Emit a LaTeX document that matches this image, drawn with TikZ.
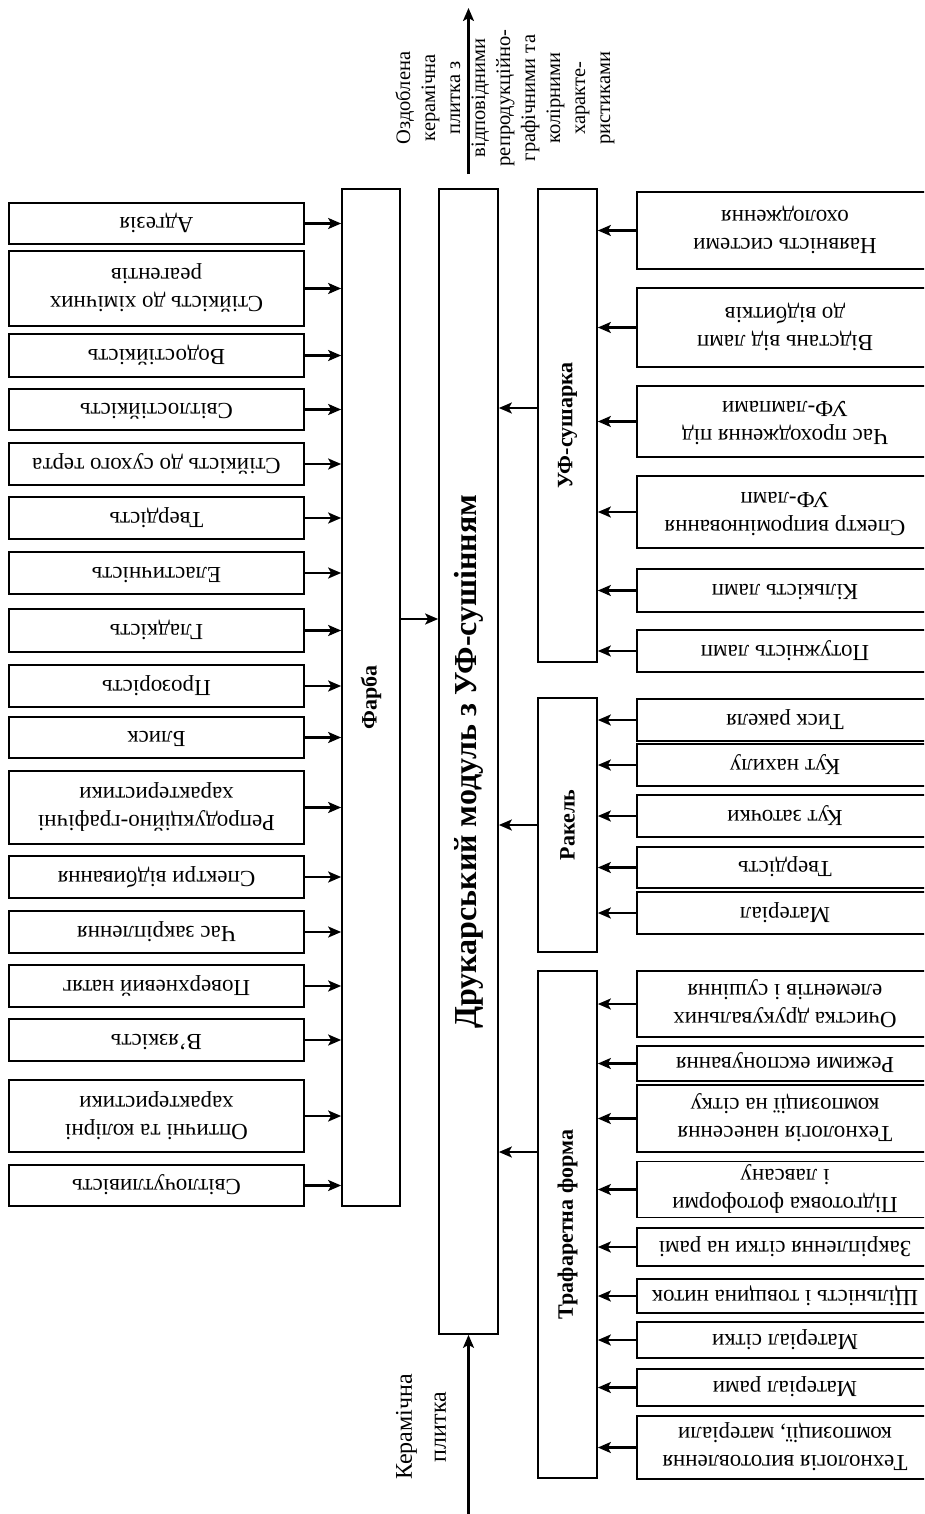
\documentclass[tikz,border=0pt]{standalone}
\usepackage{fontspec}
\setmainfont{Liberation Serif}
\usetikzlibrary{arrows.meta}
\newcommand{\fliptext}[1]{\rotatebox[origin=c]{180}{\begin{tabular}{@{}c@{}}#1\end{tabular}}}
\newcommand{\uptext}[1]{\rotatebox[origin=c]{90}{#1}}
\tikzset{
    prop_node/.style = {draw=black, line width=1.7pt, inner sep=0pt, minimum width=295pt, font=\fontsize{23}{28}\selectfont},
    item_node/.style = {prop_node, minimum width=296pt},
    group_node/.style = {draw=black, line width=1.7pt, inner sep=0pt, minimum width=59pt, font=\fontsize{22}{26}\selectfont\bfseries},
    main_node/.style = {group_node, font=\fontsize{32}{38}\selectfont\bfseries},
    flow/.style = {->, line width=2.2pt}
}
\begin{document}
\begin{tikzpicture}[x=1pt, y=-1pt, >={Stealth[length=13pt,width=11pt,inset=3pt]}]
\clip (0,0) rectangle (924,1514);
% central blocks
\node[main_node, minimum height=1145pt] (main) at (468.5,761.5) {\uptext{Друкарський модуль з УФ-сушінням}};
\node[group_node, minimum width=58pt, minimum height=1017pt] (farba) at (371,697.5) {\uptext{Фарба}};
\node[group_node, minimum height=473pt] (uf) at (567.5,425.5) {\uptext{УФ-сушарка}};
\node[group_node, minimum height=254pt] (rakel) at (567.5,825) {\uptext{Ракель}};
\node[group_node, minimum height=507pt] (traf) at (567.5,1224.5) {\uptext{Трафаретна форма}};
% ink properties
\foreach \y/\h/\t [count=\i] in {223.5/41/Адгезія, 288.5/75/{Стійкість до хімічних\\реагентів},
    355.5/43/Водостійкість, 409.5/41/Світлостійкість, 464/42/Стійкість до сухого терта,
    518/42/Твердість, 573/42/Еластичність, 630.5/43/Гладкість, 686/42/Прозорість,
    737.5/41/Блиск, 807.5/73/{Репродукційно-графічні\\характеристики}, 877/42/Спектри відбивання,
    932/42/Час закріплення, 986/42/Поверхневий натяг, 1040/42/В’язкість,
    1116/72/{Оптичні та колірні\\характеристики}, 1185.5/41/Світлочутливість}{
    \node[prop_node, minimum height=\h pt] (p\i) at (156.5,\y) {\fliptext{\t}};
    \draw[flow] (p\i.east) -- (p\i.east -| farba.west);
}
% UV dryer
\foreach \y/\h/\t [count=\i] in {230.5/77/{Наявність системи\\охолодження}, 327.5/79/{Відстань від ламп\\до відбитків},
    421.5/71/{Час проходження під\\УФ-лампами}, 512/72/{Спектр випромінювання\\УФ-ламп},
    590.5/43/Кількість ламп, 651/42/Потужність ламп}{
    \node[item_node, minimum height=\h pt] (u\i) at (785,\y) {\fliptext{\t}};
    \draw[flow] (u\i.west) -- (u\i.west -| uf.east);
}
% squeegee
\foreach \y/\h/\t [count=\i] in {720/42/Тиск ракеля, 765/42/Кут нахилу, 816/42/Кут заточки,
    867.5/41/Твердість, 913/42/Матеріал}{
    \node[item_node, minimum height=\h pt] (r\i) at (785,\y) {\fliptext{\t}};
    \draw[flow] (r\i.west) -- (r\i.west -| rakel.east);
}
% stencil
\foreach \y/\h/\t [count=\i] in {1004/66/{Очистка друкувальних\\елементів і сушіння}, 1063.5/35/Режими експонування,
    1118.5/67/{Технологія нанесення\\композиції на сітку}, 1189.5/55/{Підготовка фотоформи\\і лавсану},
    1247/38/Закріплення сітки на рамі, 1296/34/Щільність і товщина ниток, 1340/36/Матеріал сітки,
    1387.5/37/Матеріал рами, 1447.5/63/{Технологія виготовлення\\композиції, матеріали}}{
    \node[item_node, minimum height=\h pt] (t\i) at (785,\y) {\fliptext{\t}};
    \draw[flow] (t\i.west) -- (t\i.west -| traf.east);
}
% into the module
\draw[flow] ([yshift=78.5pt]farba.east) -- ([yshift=78.5pt]farba.east -| main.west);
\draw[flow] ([yshift=17.5pt]uf.west) -- ([yshift=17.5pt]uf.west -| main.east);
\draw[flow] (rakel.west) -- (rakel.west -| main.east);
\draw[flow] ([yshift=72.5pt]traf.west) -- ([yshift=72.5pt]traf.west -| main.east);
% input and output
\coordinate (tile_in) at (468.5,1520);
\coordinate (tile_out) at (468.5,8);
\draw[flow] (tile_in) -- (main.south);
\draw[flow, shorten <=14pt] (main.north) -- (tile_out);
\node[rotate=90, align=center, font=\fontsize{20.5}{25}\selectfont] (out_label) at (505,98)
    {Оздоблена\\керамічна\\плитка з\\відповідними\\репродукційно-\\графічними та\\колірними\\характе-\\ристиками};
\node[rotate=90, align=center, font=\fontsize{24}{34}\selectfont] (in_label) at (421,1427) {Керамічна\\плитка};
\end{tikzpicture}
\end{document}
